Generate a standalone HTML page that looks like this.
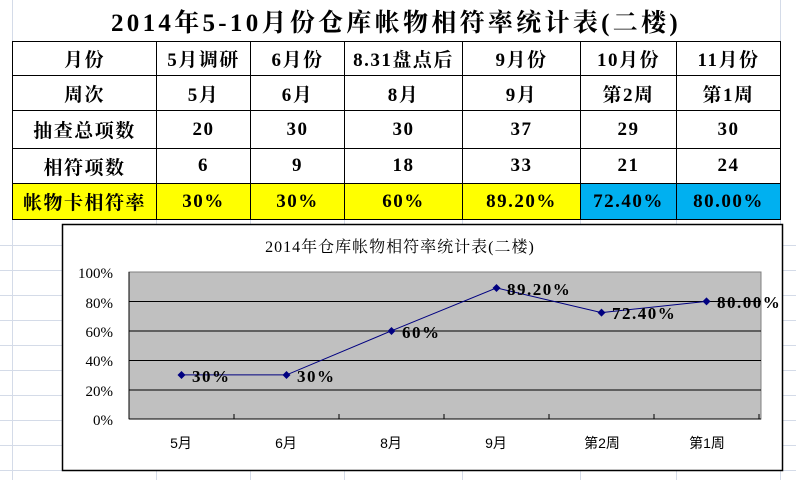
<!DOCTYPE html>
<html><head><meta charset="utf-8"><style>
body{margin:0;width:796px;height:480px;background:#fff;position:relative;overflow:hidden;font-family:"Liberation Serif","Noto Serif CJK SC","Noto Sans CJK SC",serif;}
.g{position:absolute;background:#d4dbe8;}
table{position:absolute;left:12px;top:41px;border-collapse:collapse;table-layout:fixed;}
td{border:1.5px solid #000;text-align:center;font-size:19px;font-weight:bold;padding:0;height:33px;background:#fff;letter-spacing:1.5px;white-space:nowrap;}
.y{background:#ffff00}.b{background:#00b0f0}
</style></head><body>
<div class="g" style="left:12px;top:0;width:1px;height:480px"></div>
<div class="g" style="left:156px;top:217px;width:1px;height:263px"></div>
<div class="g" style="left:250px;top:217px;width:1px;height:263px"></div>
<div class="g" style="left:344px;top:217px;width:1px;height:263px"></div>
<div class="g" style="left:462px;top:217px;width:1px;height:263px"></div>
<div class="g" style="left:580px;top:217px;width:1px;height:263px"></div>
<div class="g" style="left:676px;top:217px;width:1px;height:263px"></div>
<div class="g" style="left:780px;top:0;width:1px;height:480px"></div>
<div class="g" style="left:0;top:245px;width:796px;height:1px"></div>
<div class="g" style="left:0;top:270px;width:796px;height:1px"></div>
<div class="g" style="left:0;top:295px;width:796px;height:1px"></div>
<div class="g" style="left:0;top:320px;width:796px;height:1px"></div>
<div class="g" style="left:0;top:345px;width:796px;height:1px"></div>
<div class="g" style="left:0;top:370px;width:796px;height:1px"></div>
<div class="g" style="left:0;top:395px;width:796px;height:1px"></div>
<div class="g" style="left:0;top:420px;width:796px;height:1px"></div>
<div class="g" style="left:0;top:445px;width:796px;height:1px"></div>
<div class="g" style="left:0;top:470px;width:796px;height:1px"></div>
<div style="position:absolute;left:12px;top:3px;width:768px;text-align:center;font-size:25px;font-weight:bold;letter-spacing:3.3px;">2014年5-10月份仓库帐物相符率统计表(二楼)</div>
<table>
<colgroup><col style="width:144px"><col style="width:94px"><col style="width:94px"><col style="width:118px"><col style="width:118px"><col style="width:96px"><col style="width:104px"></colgroup>
<tr style="height:32px"><td>月份</td><td>5月调研</td><td>6月份</td><td>8.31盘点后</td><td>9月份</td><td>10月份</td><td>11月份</td></tr>
<tr style="height:35px"><td>周次</td><td>5月</td><td>6月</td><td>8月</td><td>9月</td><td>第2周</td><td>第1周</td></tr>
<tr style="height:38px"><td>抽查总项数</td><td>20</td><td>30</td><td>30</td><td>37</td><td>29</td><td>30</td></tr>
<tr style="height:35px"><td>相符项数</td><td>6</td><td>9</td><td>18</td><td>33</td><td>21</td><td>24</td></tr>
<tr style="height:36px"><td class="y">帐物卡相符率</td><td class="y">30%</td><td class="y">30%</td><td class="y">60%</td><td class="y">89.20%</td><td class="b">72.40%</td><td class="b">80.00%</td></tr>
</table>
<svg style="position:absolute;left:0;top:0" width="796" height="480">
<rect x="62.5" y="224.5" width="720" height="246" fill="#fff" stroke="#000" stroke-width="1.5"/>
<text x="400" y="252" font-size="16" text-anchor="middle" letter-spacing="1" font-family="Liberation Serif,Noto Serif CJK SC,serif">2014年仓库帐物相符率统计表(二楼)</text>
<rect x="129" y="272" width="632" height="147" fill="#c0c0c0" stroke="#808080"/>
<g stroke="#000" stroke-width="1">
<line x1="129" y1="301.5" x2="761" y2="301.5"/><line x1="129" y1="331" x2="761" y2="331"/><line x1="129" y1="360.5" x2="761" y2="360.5"/><line x1="129" y1="390" x2="761" y2="390"/>
<line x1="129" y1="419" x2="761" y2="419"/><line x1="129" y1="272" x2="129" y2="419"/>
<line x1="234" y1="414" x2="234" y2="419"/><line x1="339" y1="414" x2="339" y2="419"/><line x1="444" y1="414" x2="444" y2="419"/><line x1="549" y1="414" x2="549" y2="419"/><line x1="654" y1="414" x2="654" y2="419"/><line x1="759" y1="414" x2="759" y2="419"/>
</g>
<g font-size="15" text-anchor="end" font-family="Liberation Serif,serif">
<text x="113" y="278">100%</text><text x="113" y="308">80%</text><text x="113" y="337">60%</text><text x="113" y="366">40%</text><text x="113" y="396">20%</text><text x="113" y="425">0%</text>
</g>
<g font-size="14" text-anchor="middle" font-family="Liberation Sans,Noto Sans CJK SC,sans-serif">
<text x="181" y="448">5月</text><text x="286" y="448">6月</text><text x="391" y="448">8月</text><text x="496" y="448">9月</text><text x="602" y="448">第2周</text><text x="707" y="448">第1周</text>
</g>
<polyline points="181.5,374.9 286.5,374.9 391.5,330.8 496.5,287.9 601.5,312.6 706.5,301.4" fill="none" stroke="#000080" stroke-width="1"/>
<g fill="#000080">
<path d="M181.5 371l4 4-4 4-4-4z"/><path d="M286.5 371l4 4-4 4-4-4z"/><path d="M391.5 327l4 4-4 4-4-4z"/><path d="M496.5 284l4 4-4 4-4-4z"/><path d="M601.5 308.6l4 4-4 4-4-4z"/><path d="M706.5 297.4l4 4-4 4-4-4z"/>
</g>
<g font-size="17" font-weight="bold" font-family="Liberation Serif,serif" letter-spacing="1.5">
<text x="192" y="382">30%</text><text x="297" y="382">30%</text><text x="402" y="338">60%</text><text x="507" y="295">89.20%</text><text x="612" y="319">72.40%</text><text x="717" y="308">80.00%</text>
</g>
</svg>
</body></html>
